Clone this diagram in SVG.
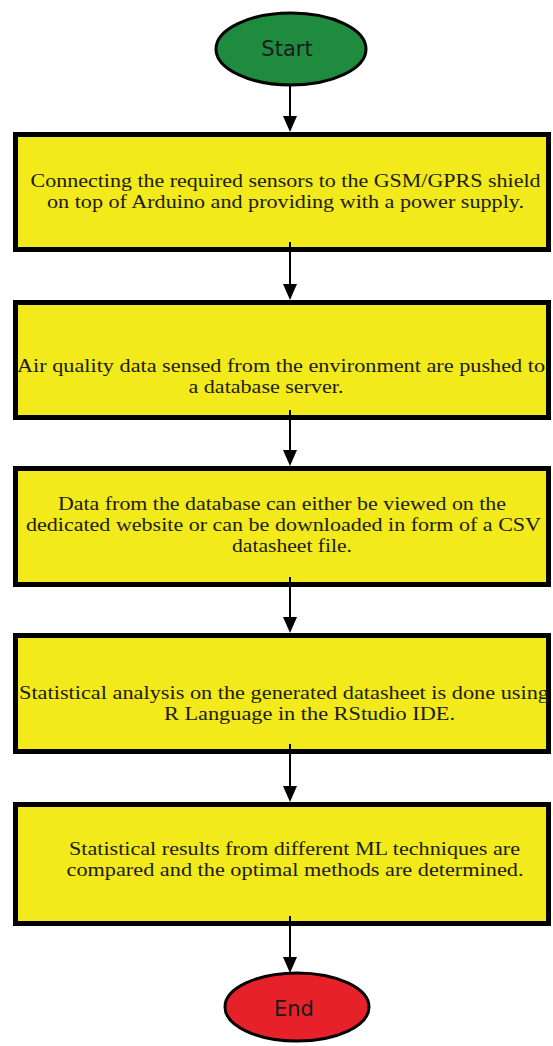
<svg xmlns="http://www.w3.org/2000/svg" width="553" height="1046" viewBox="0 0 553 1046">
  <style>
    .step { fill: #f2ea1a; stroke: #000; stroke-width: 5; }
    .term { stroke: #000; stroke-width: 3; }
    .label { font-family: "Liberation Serif", "Times New Roman", serif; font-size: 19px; fill: #1c1c10; text-anchor: middle; }
    .tlabel { font-family: "DejaVu Sans", Verdana, sans-serif; font-size: 21px; fill: #1a1a1a; text-anchor: middle; }
    .conn { stroke: #000; stroke-width: 2; fill: none; marker-end: url(#arrow); }
  </style>
  <defs>
    <marker id="arrow" markerUnits="userSpaceOnUse" markerWidth="16" markerHeight="14" refX="10" refY="7" orient="auto">
      <path d="M0,0 L16,7 L0,14 z" fill="#000"/>
    </marker>
  </defs>
  <rect width="553" height="1046" fill="#fff"/>

  <g id="start">
    <ellipse class="term" cx="291" cy="49" rx="75" ry="36" fill="#1e8b3e"/>
    <text class="tlabel" x="287" y="56">Start</text>
  </g>

  <g id="step1">
    <rect class="step" x="15.5" y="134.5" width="533" height="115"/>
    <text class="label" x="285.5" y="187" textLength="510" lengthAdjust="spacingAndGlyphs">Connecting the required sensors to the GSM/GPRS shield</text>
    <text class="label" x="285.5" y="208" textLength="477" lengthAdjust="spacingAndGlyphs">on top of Arduino and providing with a power supply.</text>
  </g>

  <g id="step2">
    <rect class="step" x="15.5" y="302.5" width="533" height="115"/>
    <text class="label" x="281" y="372" textLength="528" lengthAdjust="spacingAndGlyphs">Air quality data sensed from the environment are pushed to</text>
    <text class="label" x="266" y="393" textLength="155" lengthAdjust="spacingAndGlyphs">a database server.</text>
  </g>

  <g id="step3">
    <rect class="step" x="15.5" y="468.5" width="533" height="116"/>
    <text class="label" x="282" y="510" textLength="448" lengthAdjust="spacingAndGlyphs">Data from the database can either be viewed on the</text>
    <text class="label" x="283.5" y="531" textLength="515" lengthAdjust="spacingAndGlyphs">dedicated website or can be downloaded in form of a CSV</text>
    <text class="label" x="292" y="552" textLength="120" lengthAdjust="spacingAndGlyphs">datasheet file.</text>
  </g>

  <g id="step4">
    <rect class="step" x="15.5" y="635.5" width="533" height="116"/>
    <text class="label" x="284" y="699" textLength="530" lengthAdjust="spacingAndGlyphs">Statistical analysis on the generated datasheet is done using</text>
    <text class="label" x="309.5" y="720" textLength="291" lengthAdjust="spacingAndGlyphs">R Language in the RStudio IDE.</text>
  </g>

  <g id="step5">
    <rect class="step" x="15.5" y="804.5" width="533" height="119"/>
    <text class="label" x="294.5" y="855" textLength="451" lengthAdjust="spacingAndGlyphs">Statistical results from different ML techniques are</text>
    <text class="label" x="295" y="876" textLength="457" lengthAdjust="spacingAndGlyphs">compared and the optimal methods are determined.</text>
  </g>

  <g id="end">
    <ellipse class="term" cx="297" cy="1007" rx="72" ry="34" fill="#e62129"/>
    <text class="tlabel" x="294" y="1016">End</text>
  </g>

  <g id="connectors">
    <line class="conn" x1="290" y1="85" x2="290" y2="126"/>
    <line class="conn" x1="290" y1="242" x2="290" y2="294"/>
    <line class="conn" x1="290" y1="410" x2="290" y2="460"/>
    <line class="conn" x1="290" y1="577" x2="290" y2="627"/>
    <line class="conn" x1="290" y1="744" x2="290" y2="796"/>
    <line class="conn" x1="290" y1="916" x2="290" y2="967"/>
  </g>
</svg>
